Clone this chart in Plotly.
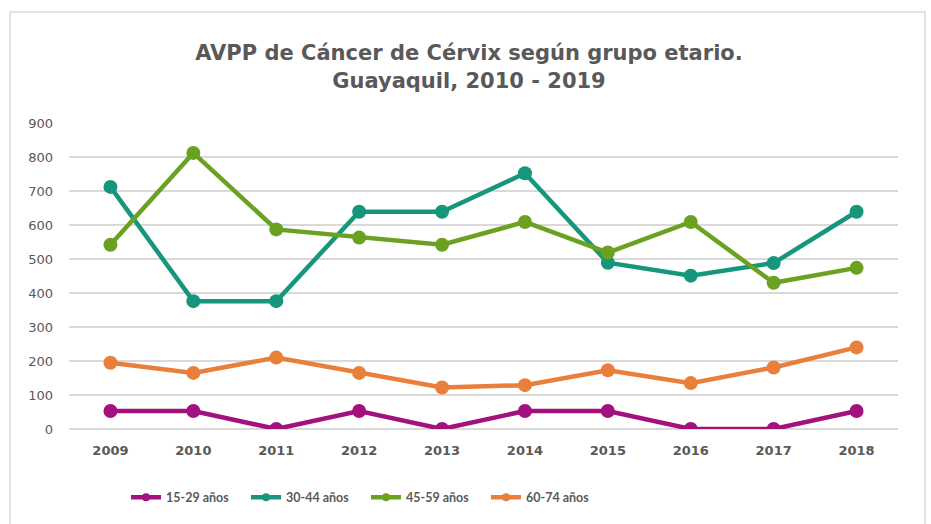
import plotly.graph_objects as go

years = ["2009", "2010", "2011", "2012", "2013", "2014", "2015", "2016", "2017", "2018"]
g15_29 = [53, 53, 0, 53, 0, 53, 53, 0, 0, 53]
g30_44 = [712, 376, 376, 639, 639, 752, 489, 451, 488, 639]
g45_59 = [542, 812, 587, 563, 542, 609, 519, 609, 430, 474]
g60_74 = [195, 165, 210, 165, 122, 129, 173, 135, 181, 240]

series = [
    ("15-29 años", g15_29, "#A2117E"),
    ("30-44 años", g30_44, "#16967D"),
    ("45-59 años", g45_59, "#6AA121"),
    ("60-74 años", g60_74, "#E97F3B"),
]

font_family = "'DejaVu Sans', sans-serif"
gray = "#595959"

fig = go.Figure()
for name, vals, col in series:
    fig.add_trace(go.Scatter(
        x=years, y=vals, name=name, mode="lines+markers",
        line=dict(color=col, width=4.5),
        marker=dict(color=col, size=14),
        showlegend=False,
    ))
# legend entries with smaller marker, as in the reference
for name, vals, col in series:
    fig.add_trace(go.Scatter(
        x=[None], y=[None], name=name, mode="lines+markers",
        line=dict(color=col, width=4.5),
        marker=dict(color=col, size=8),
        showlegend=True,
    ))

fig.update_layout(
    width=931, height=524,
    margin=dict(l=69, r=33, t=123, b=92),
    paper_bgcolor="white", plot_bgcolor="white",
    title=dict(
        text="<b>AVPP de Cáncer de Cérvix según grupo etario.<br>Guayaquil, 2010 - 2019</b>",
        x=(469 - 69) / 829, xref="paper", xanchor="center", y=0.885, yanchor="middle",
        font=dict(family=font_family, size=21, color=gray),
    ),
    font=dict(family=font_family, color=gray),
    showlegend=True,
    legend=dict(
        orientation="h", x=(366 - 69) / 829, xanchor="center", y=-0.175, yanchor="top",
        font=dict(family="Lato, sans-serif", size=12.5, color=gray, weight="bold"),
        itemwidth=30, tracegroupgap=0, entrywidth=75, entrywidthmode="pixels",
    ),
    xaxis=dict(
        type="category", range=[-0.5, 9.5], showgrid=False, zeroline=False,
        showline=False, ticks="", automargin=False, ticklabelstandoff=12,
        tickfont=dict(family=font_family, size=13, color=gray, weight="bold"),
    ),
    yaxis=dict(
        range=[0, 900], tickvals=[0, 100, 200, 300, 400, 500, 600, 700, 800, 900],
        showgrid=True, gridcolor="#D9D9D9", gridwidth=1.5, zeroline=True,
        zerolinecolor="#D9D9D9", zerolinewidth=1.5, showline=False, ticks="",
        ticklabelstandoff=15, automargin=False,
        tickfont=dict(family=font_family, size=13, color=gray),
    ),
    shapes=[dict(
        type="rect", xref="paper", yref="paper",
        x0=(10 - 69) / 829, x1=(925 - 69) / 829,
        y0=-0.5, y1=(432 - 11) / 309,
        line=dict(color="#D9D9D9", width=1.5), fillcolor="rgba(0,0,0,0)",
        layer="below",
    )],
)

fig.write_html("out.html", config={"displayModeBar": False},
               post_script="document.body.style.margin='0';")
